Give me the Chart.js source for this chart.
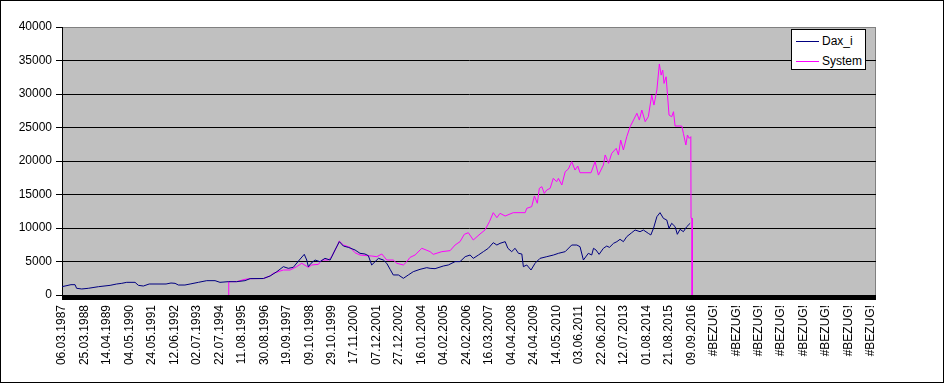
<!DOCTYPE html>
<html>
<head>
<meta charset="utf-8">
<script src="https://cdn.jsdelivr.net/npm/chart.js@4"></script>
<style>
  html, body { margin: 0; padding: 0; background: #fff; }
  #wrap { position: relative; width: 945px; height: 384px; }
  #legend {
    position: absolute; left: 791px; top: 29px; width: 75px; height: 41px;
    background: #fff; border: 1px solid #000; box-sizing: border-box;
    font: 12px "Liberation Sans", Arial, sans-serif; color: #000;
    padding-top: 3px;
  }
  #legend .row { height: 17px; line-height: 17px; white-space: nowrap; margin-bottom: 3px; }
  #legend .swatch {
    display: inline-block; width: 23px; height: 0; border-top: 1px solid;
    vertical-align: middle; margin: 0 3px 0 4px;
  }
</style>
</head>
<body>
<div id="wrap">
  <canvas id="daxChart" width="945" height="384"></canvas>
  <div id="legend"></div>
</div>
<script>
// category labels on the x axis (one every ~275 trading days)
var tickLabels = ['06.03.1987', '25.03.1988', '14.04.1989', '04.05.1990', '24.05.1991', '12.06.1992',
    '02.07.1993', '22.07.1994', '11.08.1995', '30.08.1996', '19.09.1997', '09.10.1998', '29.10.1999',
    '17.11.2000', '07.12.2001', '27.12.2002', '16.01.2004', '04.02.2005', '24.02.2006', '16.03.2007',
    '04.04.2008', '24.04.2009', '14.05.2010', '03.06.2011', '22.06.2012', '12.07.2013', '01.08.2014',
    '21.08.2015', '09.09.2016', '#BEZUG!', '#BEZUG!', '#BEZUG!', '#BEZUG!', '#BEZUG!', '#BEZUG!',
    '#BEZUG!', '#BEZUG!'];

// Dax_i: position in label steps, value
var daxPos = [0, 0.40, 0.58, 0.65, 0.88, 1.17, 1.62, 2.14, 2.43, 2.66,
    2.88, 3.25, 3.40, 3.62, 3.88, 4.63, 4.85, 5.03, 5.18, 5.47,
    5.70, 6.07, 6.44, 6.81, 7.03, 7.40, 7.77, 8.14, 8.37, 8.96,
    9.26, 9.56, 9.85, 10.07, 10.29, 10.56, 10.78, 10.89, 10.96, 11.08,
    11.26, 11.48, 11.70, 11.93, 12.15, 12.34, 12.52, 12.74, 13.04, 13.26,
    13.48, 13.63, 13.78, 13.93, 14.08, 14.30, 14.45, 14.60, 14.74, 14.97,
    15.19, 15.41, 15.63, 15.93, 16.23, 16.38, 16.60, 16.97, 17.19, 17.49,
    17.71, 17.94, 18.16, 18.30, 18.53, 18.75, 18.97, 19.19, 19.35, 19.49,
    19.72, 19.84, 20.01, 20.16, 20.31, 20.46, 20.53, 20.68, 20.87, 21.05,
    21.27, 21.57, 21.87, 22.09, 22.39, 22.68, 22.91, 23.05, 23.20, 23.42,
    23.57, 23.65, 23.76, 23.90, 24.09, 24.24, 24.36, 24.54, 24.69, 24.83,
    24.98, 25.13, 25.35, 25.50, 25.72, 25.87, 26.09, 26.20, 26.32, 26.47,
    26.61, 26.76, 26.91, 27.01, 27.13, 27.28, 27.38, 27.50, 27.65, 27.80,
    27.95];
var daxVal = [1240, 1540, 1540, 1000, 900, 1000, 1240, 1440, 1640, 1740,
    1890, 1890, 1440, 1340, 1640, 1640, 1790, 1740, 1490, 1490,
    1640, 1890, 2140, 2140, 1890, 1990, 1990, 2140, 2440, 2460,
    2840, 3480, 4230, 3980, 4130, 5220, 6070, 5220, 4230, 4730,
    5220, 4970, 5470, 5220, 6720, 7960, 7310, 7110, 6720, 6220,
    6120, 5870, 4480, 4970, 5470, 5220, 4730, 3830, 2990, 2990,
    2490, 2990, 3480, 3830, 4080, 3980, 3930, 4330, 4480, 4980,
    4980, 5720, 5970, 5470, 5970, 6470, 6970, 7810, 7460, 7710,
    7960, 6970, 6470, 6970, 6220, 6120, 4230, 4480, 3730, 4730,
    5470, 5720, 5970, 6220, 6470, 7460, 7460, 7210, 5220, 6220,
    5970, 6970, 6720, 6070, 6970, 7310, 7110, 7710, 7960, 8310,
    7960, 8710, 9300, 9700, 9450, 9700, 9200, 8960, 9950, 11690,
    12290, 11440, 11190, 9950, 10700, 10200, 9060, 9800, 9450, 10200,
    10700];

// System
var sysPos = [7.42, 7.42, 7.77, 8.14, 8.37, 8.96, 9.26, 9.40, 9.85, 10.15,
    10.44, 10.67, 10.96, 11.11, 11.41, 11.56, 11.85, 12.00, 12.23, 12.34,
    12.52, 12.82, 13.04, 13.26, 13.56, 13.78, 14.01, 14.23, 14.45, 14.74,
    14.90, 15.19, 15.34, 15.49, 15.71, 16.01, 16.20, 16.38, 16.52, 16.90,
    17.27, 17.49, 17.71, 17.90, 18.08, 18.30, 18.60, 18.82, 19.02, 19.19,
    19.35, 19.49, 19.72, 20.08, 20.61, 20.68, 20.90, 21.02, 21.15, 21.24,
    21.35, 21.46, 21.57, 21.72, 21.86, 22.01, 22.09, 22.24, 22.39, 22.53,
    22.68, 22.83, 22.95, 23.05, 23.54, 23.72, 23.87, 24.09, 24.17, 24.32,
    24.46, 24.66, 24.76, 24.86, 24.98, 25.13, 25.28, 25.43, 25.58, 25.69,
    25.80, 25.95, 26.09, 26.24, 26.34, 26.47, 26.58, 26.66, 26.73, 26.79,
    26.88, 26.96, 27.01, 27.13, 27.21, 27.28, 27.58, 27.65, 27.76, 27.83,
    27.91, 27.98, 27.99, 28.04, 28.04];
var sysVal = [0, 1990, 1990, 2340, 2440, 2460, 2840, 3230, 3730, 3730,
    4230, 4730, 4130, 4480, 4580, 5220, 5220, 5720, 7210, 8060,
    7460, 7110, 6310, 5970, 5870, 5820, 5720, 6120, 5220, 5220,
    4730, 4480, 4970, 5620, 5970, 6970, 6720, 6470, 6070, 6470,
    6620, 7460, 7960, 9050, 9300, 8210, 9100, 9700, 10940, 12290,
    11540, 12190, 11790, 12290, 12290, 12940, 13190, 14780, 13690, 15920,
    16170, 15170, 15670, 15920, 17410, 16920, 17410, 16420, 18400, 18800,
    19900, 18650, 19250, 18250, 18250, 19900, 17900, 19400, 20900, 19650,
    21140, 21890, 20900, 23130, 21640, 23630, 25120, 26110, 27120, 26110,
    27610, 25870, 26610, 29850, 28350, 30600, 34480, 32820, 33570, 31580,
    32570, 29100, 26860, 26610, 27360, 25220, 25220, 24120, 22390, 23880,
    23380, 23630, 11450, 11450, 0];

function toPoints(xs, ys) {
    return xs.map(function (x, i) { return { x: x, y: ys[i] }; });
}

Chart.defaults.font.family = '"Liberation Sans", Arial, sans-serif';
Chart.defaults.font.size = 12;
Chart.defaults.color = '#000';

// grey plot area, black tick band under the category axis, outer frame
var excelLook = {
    id: 'excelLook',
    beforeDraw: function (chart) {
        var ctx = chart.ctx, a = chart.chartArea;
        ctx.save();
        ctx.fillStyle = '#c0c0c0';
        ctx.fillRect(a.left, a.top, a.right - a.left, a.bottom - a.top);
        ctx.strokeStyle = '#808080';
        ctx.lineWidth = 1;
        ctx.strokeRect(a.left + 0.5, a.top + 0.5, a.right - a.left - 1, a.bottom - a.top);
        ctx.restore();
    },
    beforeDatasetsDraw: function (chart) {
        var ctx = chart.ctx, a = chart.chartArea;
        ctx.save();
        ctx.fillStyle = '#000';
        ctx.fillRect(a.left, a.bottom, a.right - a.left, 5);
        ctx.restore();
    },
    afterDraw: function (chart) {
        var ctx = chart.ctx;
        ctx.save();
        ctx.strokeStyle = '#000';
        ctx.lineWidth = 1;
        ctx.strokeRect(0.5, 0.5, chart.width - 2, chart.height - 2);
        ctx.restore();
    }
};

var ctx = document.getElementById('daxChart').getContext('2d');
var chart = new Chart(ctx, {
    type: 'line',
    data: {
        datasets: [{
            label: 'Dax_i',
            borderColor: '#000080',
            borderWidth: 1,
            data: toPoints(daxPos, daxVal)
        }, {
            label: 'System',
            borderColor: '#ff00ff',
            borderWidth: 1,
            data: toPoints(sysPos, sysVal)
        }]
    },
    options: {
        responsive: false,
        animation: false,
        events: [],
        elements: { point: { radius: 0 }, line: { tension: 0 } },
        layout: { padding: { top: 27, right: 69, left: 0, bottom: 0 } },
        plugins: { legend: { display: false }, tooltip: { enabled: false } },
        scales: {
            x: {
                type: 'linear',
                min: 0,
                max: 36.22,
                afterBuildTicks: function (scale) {
                    scale.ticks = tickLabels.map(function (_, i) { return { value: i }; });
                },
                afterFit: function (scale) { scale.height = 89; },
                grid: { drawOnChartArea: false, drawTicks: true, tickLength: 5, tickColor: '#000' },
                border: { display: false },
                ticks: {
                    autoSkip: false,
                    minRotation: 90,
                    maxRotation: 90,
                    padding: 5,
                    callback: function (v) { return tickLabels[v] || ''; }
                }
            },
            y: {
                min: 0,
                max: 40000,
                afterFit: function (scale) { scale.width = 62; },
                grid: {
                    color: function (c) { return c.tick && c.tick.value === 40000 ? '#808080' : '#000'; },
                    tickColor: '#000',
                    tickLength: 6
                },
                border: { color: '#000' },
                ticks: {
                    stepSize: 5000,
                    padding: 4,
                    callback: function (v) { return String(v); }
                }
            }
        }
    },
    plugins: [excelLook]
});

// legend box drawn as html from the datasets
var legendBox = document.getElementById('legend');
chart.data.datasets.forEach(function (ds) {
    var row = document.createElement('div');
    row.className = 'row';
    var sw = document.createElement('span');
    sw.className = 'swatch';
    sw.style.borderTopColor = ds.borderColor;
    row.appendChild(sw);
    row.appendChild(document.createTextNode(ds.label));
    legendBox.appendChild(row);
});
</script>
</body>
</html>
